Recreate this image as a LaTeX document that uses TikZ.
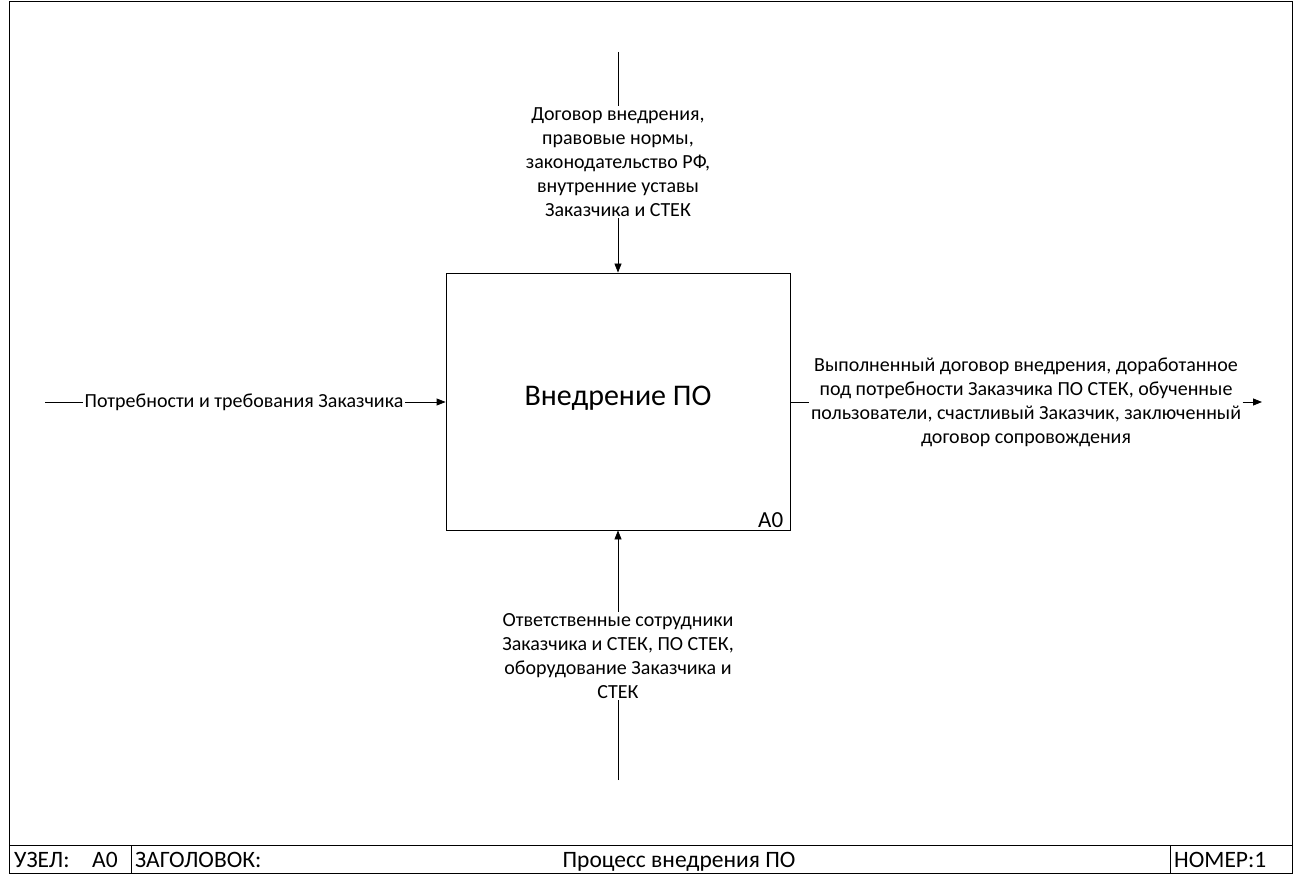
\documentclass[tikz,border=0pt]{standalone}
\usepackage{fontspec}
\setmainfont{Carlito}
\usetikzlibrary{arrows.meta, positioning}

\tikzset{
    funcbox/.style={draw, thick, minimum width=344pt, minimum height=257pt, font=\fontsize{30}{36}\selectfont},
    lbl/.style={align=center, inner sep=1.5pt, font=\fontsize{20}{24}\selectfont},
    barlbl/.style={inner sep=0pt, font=\fontsize{23.5}{28}\selectfont},
    arr/.style={thick, -{Triangle[length=9pt, width=7pt]}},
    ln/.style={thick}
}

\begin{document}
\begin{tikzpicture}[x=1pt, y=-1pt]
    \useasboundingbox (0,0) rectangle (1294,885);
    % frame and title bar
    \draw[thick] (9,1) rectangle (1292,873);
    \draw[thick] (9,845) -- (1292,845);
    \draw[thick] (131,845) -- (131,873);
    \draw[thick] (1170,845) -- (1170,873);
    \node[barlbl, anchor=base west] (node) at (14,867) {УЗЕЛ:};
    \node[barlbl, anchor=base west] (nodeid) at (92,867) {A0};
    \node[barlbl, anchor=base west] (title) at (135,867) {ЗАГОЛОВОК:};
    \node[barlbl, anchor=base] (titletext) at (679,867) {Процесс внедрения ПО};
    \node[barlbl, anchor=base west] (number) at (1174,867) {НОМЕР:1};

    % function box
    \node[funcbox] (fn) at (618,401.5) {};
    \node[font=\fontsize{30}{36}\selectfont] (fntext) at (618,398) {Внедрение ПО};
    \node[anchor=south east, inner xsep=7pt, inner ysep=3pt, font=\fontsize{23}{26}\selectfont] (fnid) at (fn.south east) {A0};

    % control
    \coordinate (ctrltop) at (618,52);
    \node[lbl] (ctrl) at (618,162) {Договор внедрения,\\правовые нормы,\\законодательство РФ,\\внутренние уставы\\Заказчика и СТЕК};
    \draw[ln] (ctrltop) -- (ctrl);
    \draw[arr] (ctrl) -- (fn.north);

    % input
    \coordinate (inleft) at (45,402);
    \node[lbl, anchor=east] (in) at (405,402) {Потребности и требования Заказчика};
    \draw[ln] (inleft) -- (in);
    \draw[arr] (in) -- (fn.west |- in);

    % output
    \coordinate (outright) at (1262,402);
    \node[lbl] (out) at (1026,402) {Выполненный договор внедрения, доработанное\\под потребности Заказчика ПО СТЕК, обученные\\пользователи, счастливый Заказчик, заключенный\\договор сопровождения};
    \draw[ln] (fn.east |- out) -- (out);
    \draw[arr] (out) -- (outright);

    % mechanism
    \coordinate (mechbot) at (618,780);
    \node[lbl] (mech) at (618,656) {Ответственные сотрудники\\Заказчика и СТЕК, ПО СТЕК,\\оборудование Заказчика и\\СТЕК};
    \draw[ln] (mechbot) -- (mech);
    \draw[arr] (mech) -- (fn.south);
\end{tikzpicture}
\end{document}
